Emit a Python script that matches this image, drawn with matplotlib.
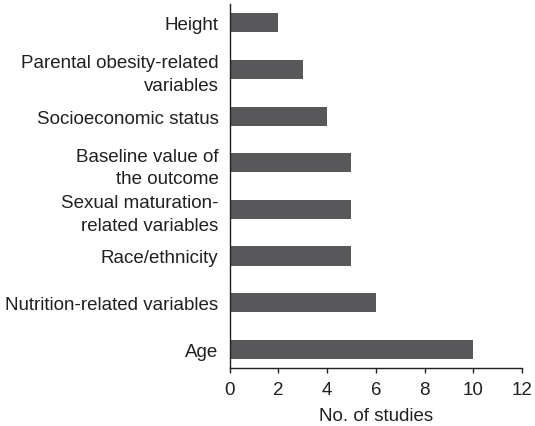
import matplotlib
matplotlib.use("Agg")
import matplotlib.pyplot as plt

plt.rcParams['font.family'] = ['Liberation Sans', 'DejaVu Sans']

# bottom to top
categories = [
    "Age",
    "Nutrition-related variables",
    "Race/ethnicity",
    "Sexual maturation-\nrelated variables",
    "Baseline value of\nthe outcome",
    "Socioeconomic status",
    "Parental obesity-related\nvariables",
    "Height",
]
n_studies = [10, 6, 5, 5, 5, 4, 3, 2]
xticks = [0, 2, 4, 6, 8, 10, 12]

text_col = "#231f20"

fig = plt.figure(figsize=(5.35, 4.27), dpi=100)
ax = fig.add_axes([0.429, 0.136, 0.547, 0.852])

ax.barh(range(len(categories)), n_studies, height=0.41, color="#58585a")

ax.set_ylim(-0.4, len(categories) - 1 + 0.4)
ax.set_xlim(0, 12)
ax.set_xticks(xticks)
ax.set_yticks(range(len(categories)))
ax.set_yticklabels(categories, ha="right", linespacing=1.4)

ax.spines['top'].set_visible(False)
ax.spines['right'].set_visible(False)
for s in ['left', 'bottom']:
    ax.spines[s].set_color(text_col)
    ax.spines[s].set_linewidth(1.0)

ax.tick_params(axis='x', direction='out', length=3.6, width=1.0, colors=text_col,
               labelsize=13.5, pad=6)
ax.tick_params(axis='y', length=0, pad=8, labelsize=13.5, labelcolor=text_col)

ax.set_xlabel("No. of studies", fontsize=13.5, color=text_col, labelpad=6)

fig.savefig("out.png", dpi=100)
